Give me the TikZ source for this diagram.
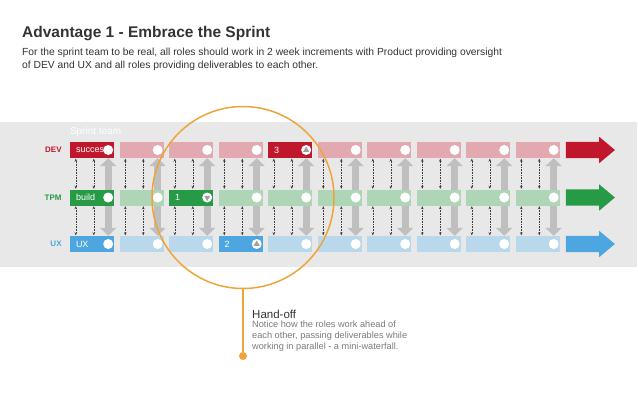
\documentclass[tikz,border=0pt]{standalone}
\usepackage{fontspec}
\setmainfont{Liberation Sans}
\usetikzlibrary{arrows.meta}
\usetikzlibrary{backgrounds}
\usetikzlibrary{calc}
\usetikzlibrary{positioning}
\usetikzlibrary{shapes.geometric}
\usetikzlibrary{shapes.arrows}
\definecolor{devred}{HTML}{C1172C}
\definecolor{devlight}{HTML}{E2A9B1}
\definecolor{tpmgreen}{HTML}{279A45}
\definecolor{tpmlight}{HTML}{AED6B6}
\definecolor{uxblue}{HTML}{4DA6E0}
\definecolor{uxlight}{HTML}{B9D8EC}
\definecolor{bandgray}{HTML}{E8E8E8}
\definecolor{ringorange}{HTML}{EFA43A}
\definecolor{textdark}{HTML}{333333}
\definecolor{notegray}{HTML}{7A7A7A}

\begin{document}
\begin{tikzpicture}[x=1pt,y=-1pt,
	box/.style={rectangle,minimum width=44pt,minimum height=16pt,inner sep=0pt},
	dot/.style={circle,fill=white,minimum size=10pt,inner sep=0pt},
	marker/.style={regular polygon,regular polygon sides=3,fill=gray!75,minimum size=7pt,inner sep=0pt},
	boxtext/.style={anchor=west,text=white,inner sep=0pt,font=\fontsize{9}{9}\selectfont},
	rowlabel/.style={anchor=east,inner sep=0pt,font=\bfseries\fontsize{8}{9}\selectfont},
	pass/.style={densely dotted,line width=0.6pt,draw=black!75,{Stealth[length=3pt,width=2.6pt]}-{Stealth[length=3pt,width=2.6pt]},shorten <=0.5pt,shorten >=0.5pt},
	handoff/.style={line width=7pt,draw=black!25,{Triangle[length=8pt,width=16pt]}-{Triangle[length=8pt,width=16pt]}},
	flow/.style={single arrow,anchor=west,minimum height=49pt,inner xsep=0pt,inner ysep=8pt,single arrow head extend=5pt,single arrow tip angle=80}]
	\useasboundingbox (0,0) rectangle (638,413);
	\begin{scope}[on background layer]
		\fill[bandgray] (0,122) rectangle (637,267);
	\end{scope}
	% heading
	\node[anchor=base west,inner sep=0pt,text=textdark,font=\bfseries\fontsize{15.5}{16}\selectfont] (TITLE) at (22,37) {Advantage 1 - Embrace the Sprint};
	\node[anchor=north west,inner sep=0pt,align=left,text=textdark,font=\fontsize{10.3}{13.5}\selectfont] (INTRO) at (22,47.5) {For the sprint team to be real, all roles should work in 2 week increments with Product providing oversight\\of DEV and UX and all roles providing deliverables to each other.};
	% sprint columns
	\foreach \i/\devc/\tpmc/\uxc in {1/devred/tpmgreen/uxblue,2/devlight/tpmlight/uxlight,3/devlight/tpmgreen/uxlight,4/devlight/tpmlight/uxblue,5/devred/tpmlight/uxlight,6/devlight/tpmlight/uxlight,7/devlight/tpmlight/uxlight,8/devlight/tpmlight/uxlight,9/devlight/tpmlight/uxlight,10/devlight/tpmlight/uxlight}{
		\node[box,fill=\devc] (DEV_\i) at ({92+49.5*(\i-1)},150) {};
		\node[box,fill=\tpmc] (TPM_\i) at ({92+49.5*(\i-1)},197.5) {};
		\node[box,fill=\uxc] (UX_\i) at ({92+49.5*(\i-1)},244) {};
	}
	\node[rowlabel,text=devred] (DEV_LABEL) at ($(DEV_1.west)+(-8,0)$) {DEV};
	\node[rowlabel,text=tpmgreen] (TPM_LABEL) at ($(TPM_1.west)+(-8,0)$) {TPM};
	\node[rowlabel,text=uxblue] (UX_LABEL) at ($(UX_1.west)+(-8,0)$) {UX};
	\node[anchor=base west,inner sep=0pt,text=white,font=\fontsize{10}{10}\selectfont] (SPRINT_TEAM) at ($(DEV_1.north west)+(0,-7.5)$) {Sprint team};
	\node[boxtext] at ($(DEV_1.west)+(6,0)$) {success};
	\node[boxtext] at ($(TPM_1.west)+(6,0)$) {build};
	\node[boxtext] at ($(UX_1.west)+(6,0)$) {UX};
	\node[boxtext] at ($(TPM_3.west)+(6,0)$) {1};
	\node[boxtext] at ($(UX_4.west)+(6,0)$) {2};
	\node[boxtext] at ($(DEV_5.west)+(6,0)$) {3};
	\foreach \i in {1,...,10}{
		\node[dot] (DEV_DOT_\i) at ($(DEV_\i.east)+(-6,0)$) {};
		\node[dot] (TPM_DOT_\i) at ($(TPM_\i.east)+(-6,0)$) {};
		\node[dot] (UX_DOT_\i) at ($(UX_\i.east)+(-6,0)$) {};
		\begin{scope}[on background layer]
			\draw[handoff] (DEV_\i.south -| DEV_DOT_\i) -- (UX_\i.north -| UX_DOT_\i);
		\end{scope}
		\foreach \k in {6,24}{
			\draw[pass] ($(DEV_\i.south west)+(\k,0)$) -- ($(TPM_\i.north west)+(\k,0)$);
			\draw[pass] ($(TPM_\i.south west)+(\k,0)$) -- ($(UX_\i.north west)+(\k,0)$);
		}
	}
	\node[marker,shape border rotate=180] at (TPM_DOT_3) {};
	\node[marker] at (UX_DOT_4) {};
	\node[marker] at (DEV_DOT_5) {};
	% row arrows
	\node[flow,fill=devred] (DEV_ARROW) at ($(DEV_10.east)+(6,0)$) {};
	\node[flow,fill=tpmgreen] (TPM_ARROW) at ($(TPM_10.east)+(6,0)$) {};
	\node[flow,fill=uxblue] (UX_ARROW) at ($(UX_10.east)+(6,0)$) {};
	% hand-off callout
	\node[circle,draw=ringorange,line width=1.5pt,minimum size=182pt,inner sep=0pt] (RING) at (243,197.5) {};
	\node[circle,fill=ringorange,minimum size=8pt,inner sep=0pt] (RING_DOT) at (243,356) {};
	\draw[ringorange,line width=1.5pt] (RING.south) -- (RING_DOT);
	\node[anchor=base west,inner sep=0pt,text=textdark,font=\fontsize{11.5}{12}\selectfont] (HANDOFF) at (252,318) {Hand-off};
	\node[anchor=north west,inner sep=0pt,align=left,text=notegray,font=\fontsize{9.2}{11}\selectfont] (HANDOFF_NOTE) at (252,320.8) {Notice how the roles work ahead of\\each other, passing deliverables while\\working in parallel - a mini-waterfall.};
\end{tikzpicture}
\end{document}
